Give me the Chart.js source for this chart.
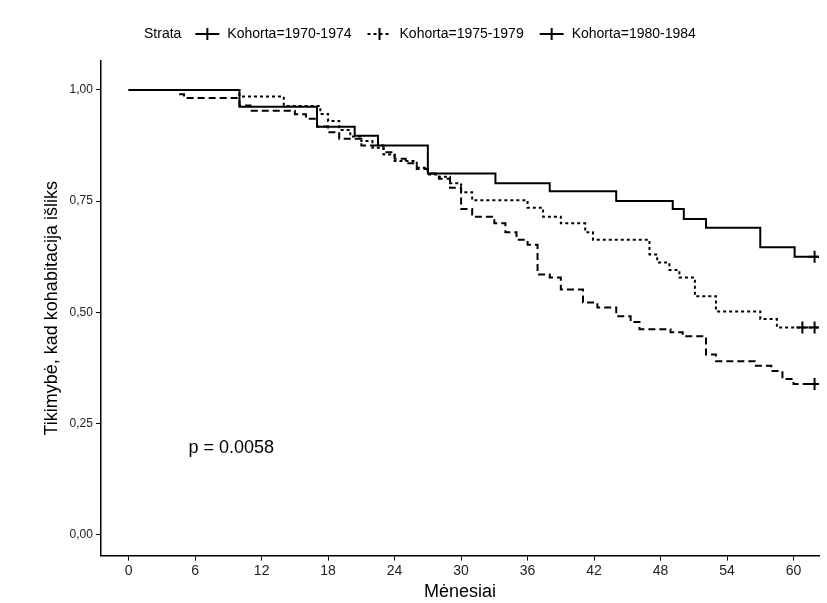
<!DOCTYPE html>
<html>
<head>
<meta charset="utf-8">
<script src="https://cdn.jsdelivr.net/npm/chart.js@4"></script>
<style>
  body { margin: 0; background: #fff; }
  #wrap { width: 827px; height: 603px; }
</style>
</head>
<body>
<div id="wrap"><canvas id="km"></canvas></div>
<script>
const cohorts = ["Kohorta=1970-1974", "Kohorta=1975-1979", "Kohorta=1980-1984"];
const xTicks = [0, 6, 12, 18, 24, 30, 36, 42, 48, 54, 60];
const yTicks = [0, 0.25, 0.5, 0.75, 1];

// [month, survival after the step]
const km1970 = [[0,1],[10,0.962],[17,0.917],[20.4,0.897],[22.5,0.875],[27,0.812],[33.1,0.79],[38,0.772],[44,0.75],[49.1,0.732],[50.1,0.71],[52.1,0.69],[57,0.646],[60.1,0.625],[62.3,0.625]];
const km1975 = [[0,1],[10,0.985],[14,0.964],[17.3,0.946],[18,0.93],[19,0.91],[20,0.895],[21,0.885],[22,0.87],[23,0.855],[24,0.84],[26,0.825],[27,0.81],[28,0.805],[29,0.79],[30,0.77],[31,0.752],[36,0.735],[37.4,0.715],[39,0.7],[41.2,0.68],[41.9,0.663],[47,0.63],[47.7,0.612],[48.8,0.595],[49.7,0.578],[51.1,0.536],[53,0.502],[57,0.485],[58.5,0.466],[62.3,0.466]];
const km1980 = [[0,1],[4.5,0.99],[5,0.982],[10,0.965],[11,0.953],[15,0.945],[16,0.935],[17,0.918],[18,0.905],[19,0.89],[21,0.875],[23,0.86],[24,0.845],[25,0.835],[26,0.822],[27,0.812],[28,0.8],[29,0.78],[30,0.732],[31,0.715],[33,0.7],[34,0.68],[35,0.663],[36,0.652],[36.9,0.585],[38,0.578],[39,0.551],[41,0.522],[42.3,0.511],[44,0.491],[45.3,0.478],[46.1,0.462],[48.9,0.455],[50,0.446],[52.1,0.405],[53,0.39],[56.5,0.38],[58,0.368],[59,0.35],[60,0.339],[62.3,0.339]];
const censor1970 = [[61.9,0.625]];
const censor1975 = [[60.8,0.466],[61.9,0.466]];
const censor1980 = [[61.9,0.339]];
const dashes = [[], [3, 3], [7, 4]];

const toPts = a => a.map(p => ({ x: p[0], y: p[1] }));
const curves = [km1970, km1975, km1980];
const censors = [censor1970, censor1975, censor1980];

const datasets = [];
curves.forEach((c, i) => {
  datasets.push({
    label: cohorts[i], data: toPts(c), stepped: 'before',
    borderColor: '#000', borderWidth: 2, borderDash: dashes[i],
    pointRadius: 0, fill: false
  });
  datasets.push({
    label: cohorts[i] + ' censor', data: toPts(censors[i]), showLine: false,
    pointStyle: 'cross', pointRadius: 6, borderColor: '#000', borderWidth: 2
  });
});

const legendPlugin = {
  id: 'kmLegend',
  afterDraw(chart) {
    const ctx = chart.ctx;
    ctx.save();
    ctx.font = '14px Arial, "Liberation Sans"';
    ctx.fillStyle = '#000';
    ctx.strokeStyle = '#000';
    ctx.textBaseline = 'middle';
    const y = 34;
    let x = 144;
    ctx.fillText('Strata', x, y);
    x += ctx.measureText('Strata').width + 14;
    cohorts.forEach((name, i) => {
      ctx.lineWidth = 2;
      ctx.setLineDash(i === 1 ? [3, 3] : []);
      ctx.beginPath(); ctx.moveTo(x, y); ctx.lineTo(x + 24, y); ctx.stroke();
      ctx.setLineDash([]);
      ctx.beginPath(); ctx.moveTo(x + 12, y - 6); ctx.lineTo(x + 12, y + 6); ctx.stroke();
      x += 32;
      ctx.fillText(name, x, y);
      x += ctx.measureText(name).width + 16;
    });
    // p-value
    const px = chart.scales.x.getPixelForValue(5.4);
    const py = chart.scales.y.getPixelForValue(0.195);
    ctx.font = '18px Arial, "Liberation Sans"';
    ctx.fillText('p = 0.0058', px, py);
    ctx.restore();
  }
};

new Chart(document.getElementById('km'), {
  type: 'line',
  data: { datasets },
  plugins: [legendPlugin],
  options: {
    responsive: true, maintainAspectRatio: false, animation: false,
    layout: { padding: { top: 61, right: 0, left: 37, bottom: 0 } },
    plugins: { legend: { display: false }, tooltip: { enabled: false } },
    scales: {
      x: {
        type: 'linear', min: -2.5, max: 62.3,
        afterBuildTicks: s => { s.ticks = xTicks.map(v => ({ value: v })); },
        grid: { display: true, drawOnChartArea: false, tickLength: 5, color: '#000' },
        border: { color: '#000', width: 1.5 },
        ticks: { color: '#222', font: { size: 14, family: 'Arial' }, autoSkip: false, maxRotation: 0, padding: 2 },
        title: { display: true, text: 'Mėnesiai', color: '#000', font: { size: 18, family: 'Arial' }, padding: { top: 0, bottom: 0 } }
      },
      y: {
        min: -0.047, max: 1.065,
        afterBuildTicks: s => { s.ticks = yTicks.map(v => ({ value: v })); },
        grid: { display: true, drawOnChartArea: false, tickLength: 5, color: '#000' },
        border: { color: '#000', width: 1.5 },
        ticks: { color: '#222', font: { size: 12, family: 'Arial' },
          callback: v => v.toFixed(2).replace('.', ',') },
        title: { display: true, text: 'Tikimybė, kad kohabitacija išliks', color: '#000', font: { size: 18, family: 'Arial' } }
      }
    }
  }
});
</script>
</body>
</html>
